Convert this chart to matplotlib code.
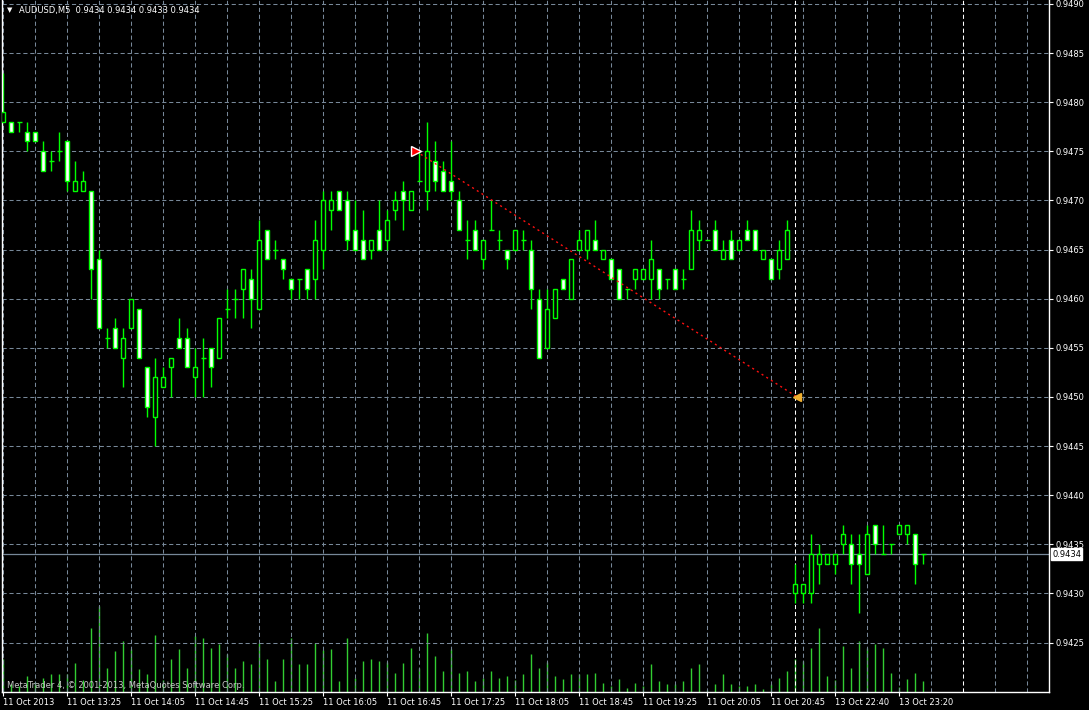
import numpy as np
import matplotlib
matplotlib.use("Agg")
import matplotlib.pyplot as plt
from matplotlib.patches import Rectangle

plt.rcParams['lines.scale_dashes'] = False
plt.rcParams['font.family'] = ['DejaVu Sans']

symbol = "AUDUSD,M5"

# M5 bars, Friday 11 Oct 12:45 .. 20:55, then Sunday 13 Oct 22:15 .. 23:35
opens = [0.9478, 0.9478, 0.9478, 0.9477, 0.9477, 0.9475, 0.9474, 0.9475, 0.9476, 0.9471,
         0.9471, 0.9471, 0.9464, 0.9456, 0.9457, 0.9454, 0.9457, 0.9459, 0.9453, 0.9448,
         0.9451, 0.9453, 0.9456, 0.9456, 0.9452, 0.9454, 0.9455, 0.9454, 0.9459, 0.9460,
         0.9461, 0.9462, 0.9459, 0.9467, 0.9465, 0.9464, 0.9462, 0.9462, 0.9463, 0.9462,
         0.9465, 0.9469, 0.9471, 0.9470, 0.9467, 0.9466, 0.9465, 0.9467, 0.9466, 0.9469,
         0.9471, 0.9469, 0.9472, 0.9471, 0.9474, 0.9473, 0.9472, 0.9470, 0.9466, 0.9467,
         0.9464, 0.9467, 0.9466, 0.9465, 0.9465, 0.9466, 0.9465, 0.9460, 0.9455, 0.9458,
         0.9462, 0.9460, 0.9465, 0.9465, 0.9466, 0.9464, 0.9464, 0.9463, 0.9461, 0.9462,
         0.9462, 0.9462, 0.9463, 0.9462, 0.9463, 0.9462, 0.9463, 0.9466, 0.9466, 0.9467,
         0.9464, 0.9466, 0.9465, 0.9467, 0.9467, 0.9464, 0.9464, 0.9463, 0.9464,
         0.9430, 0.9430, 0.9430, 0.9433, 0.9433, 0.9433, 0.9435, 0.9435, 0.9434, 0.9432,
         0.9437, 0.9434, 0.9435, 0.9436, 0.9436, 0.9436, 0.9434]
highs = [0.9483, 0.9478, 0.9478, 0.9478, 0.9477, 0.9476, 0.9475, 0.9477, 0.9476, 0.9474,
         0.9473, 0.9471, 0.9465, 0.9457, 0.9458, 0.9457, 0.9460, 0.9459, 0.9453, 0.9454,
         0.9453, 0.9454, 0.9458, 0.9457, 0.9455, 0.9456, 0.9455, 0.9458, 0.9461, 0.9461,
         0.9463, 0.9463, 0.9468, 0.9467, 0.9466, 0.9464, 0.9462, 0.9462, 0.9463, 0.9468,
         0.9471, 0.9471, 0.9471, 0.9471, 0.9470, 0.9469, 0.9466, 0.9470, 0.9469, 0.9471,
         0.9472, 0.9471, 0.9475, 0.9478, 0.9476, 0.9474, 0.9476, 0.9471, 0.9468, 0.9468,
         0.9466, 0.9470, 0.9467, 0.9465, 0.9467, 0.9467, 0.9466, 0.9461, 0.9461, 0.9461,
         0.9462, 0.9464, 0.9467, 0.9467, 0.9468, 0.9465, 0.9464, 0.9463, 0.9461, 0.9463,
         0.9463, 0.9466, 0.9463, 0.9462, 0.9463, 0.9463, 0.9469, 0.9468, 0.9466, 0.9468,
         0.9466, 0.9467, 0.9466, 0.9468, 0.9467, 0.9465, 0.9464, 0.9466, 0.9468,
         0.9433, 0.9431, 0.9436, 0.9435, 0.9434, 0.9434, 0.9437, 0.9436, 0.9436, 0.9437,
         0.9437, 0.9437, 0.9435, 0.9437, 0.9437, 0.9436, 0.9434]
lows = [0.9478, 0.9477, 0.9477, 0.9475, 0.9476, 0.9473, 0.9473, 0.9474, 0.9471, 0.9471,
        0.9471, 0.9460, 0.9457, 0.9455, 0.9455, 0.9451, 0.9457, 0.9454, 0.9448, 0.9445,
        0.9451, 0.9450, 0.9455, 0.9453, 0.9450, 0.9450, 0.9451, 0.9454, 0.9458, 0.9458,
        0.9458, 0.9457, 0.9459, 0.9464, 0.9464, 0.9462, 0.9460, 0.9460, 0.9460, 0.9460,
        0.9463, 0.9467, 0.9469, 0.9465, 0.9465, 0.9464, 0.9464, 0.9465, 0.9465, 0.9468,
        0.9467, 0.9469, 0.9472, 0.9469, 0.9471, 0.9471, 0.9470, 0.9467, 0.9464, 0.9465,
        0.9463, 0.9467, 0.9465, 0.9463, 0.9465, 0.9465, 0.9459, 0.9454, 0.9455, 0.9458,
        0.9461, 0.9460, 0.9465, 0.9464, 0.9465, 0.9464, 0.9462, 0.9460, 0.9460, 0.9461,
        0.9462, 0.9460, 0.9460, 0.9461, 0.9461, 0.9461, 0.9463, 0.9465, 0.9466, 0.9465,
        0.9464, 0.9464, 0.9465, 0.9466, 0.9465, 0.9464, 0.9462, 0.9462, 0.9464,
        0.9429, 0.9429, 0.9429, 0.9431, 0.9433, 0.9432, 0.9434, 0.9431, 0.9428, 0.9432,
        0.9434, 0.9434, 0.9434, 0.9436, 0.9435, 0.9431, 0.9433]
closes = [0.9479, 0.9477, 0.9478, 0.9476, 0.9476, 0.9473, 0.9474, 0.9475, 0.9472, 0.9472,
          0.9472, 0.9463, 0.9457, 0.9456, 0.9455, 0.9456, 0.9460, 0.9454, 0.9449, 0.9452,
          0.9452, 0.9454, 0.9455, 0.9453, 0.9453, 0.9454, 0.9453, 0.9458, 0.9459, 0.9460,
          0.9463, 0.9460, 0.9466, 0.9464, 0.9465, 0.9463, 0.9461, 0.9462, 0.9461, 0.9466,
          0.9470, 0.9470, 0.9469, 0.9466, 0.9465, 0.9464, 0.9466, 0.9465, 0.9468, 0.9470,
          0.9470, 0.9471, 0.9472, 0.9475, 0.9472, 0.9471, 0.9471, 0.9467, 0.9466, 0.9465,
          0.9466, 0.9467, 0.9466, 0.9464, 0.9467, 0.9466, 0.9461, 0.9454, 0.9459, 0.9461,
          0.9461, 0.9464, 0.9466, 0.9467, 0.9465, 0.9465, 0.9462, 0.9460, 0.9461, 0.9463,
          0.9463, 0.9464, 0.9461, 0.9462, 0.9461, 0.9462, 0.9467, 0.9467, 0.9466, 0.9465,
          0.9465, 0.9464, 0.9466, 0.9466, 0.9465, 0.9465, 0.9462, 0.9465, 0.9467,
          0.9431, 0.9431, 0.9434, 0.9434, 0.9434, 0.9434, 0.9436, 0.9433, 0.9433, 0.9436,
          0.9435, 0.9434, 0.9435, 0.9437, 0.9437, 0.9433, 0.9434]
volumes = [33, 8, 6, 16, 10, 14, 18, 18, 18, 29, 12, 64, 86, 24, 41, 51, 43, 23, 18, 57,
           12, 33, 43, 24, 56, 54, 44, 48, 38, 24, 31, 28, 49, 33, 11, 33, 54, 28, 28, 49,
           42, 43, 11, 54, 14, 31, 33, 31, 30, 19, 29, 44, 24, 59, 36, 21, 43, 19, 21, 11,
           14, 21, 14, 16, 12, 18, 38, 24, 30, 16, 13, 18, 18, 18, 19, 9, 6, 13, 4, 9,
           6, 28, 11, 8, 8, 11, 24, 28, 2, 8, 18, 8, 6, 6, 8, 3, 8, 14, 21,
           33, 31, 44, 64, 16, 12, 46, 24, 51, 44, 48, 44, 19, 5, 13, 19, 11]

time_labels = ["11 Oct 2013", "11 Oct 13:25", "11 Oct 14:05", "11 Oct 14:45", "11 Oct 15:25",
               "11 Oct 16:05", "11 Oct 16:45", "11 Oct 17:25", "11 Oct 18:05", "11 Oct 18:45",
               "11 Oct 19:25", "11 Oct 20:05", "11 Oct 20:45", "13 Oct 22:40", "13 Oct 23:20"]
label_step = 8
day_separators = [99, 120]
price_ticks = np.arange(0.9425, 0.94901, 0.0005)

# trend line anchors (bar, price)
trend_bars = [51.6, 99.2]
trend_prices = [0.9475, 0.9450]

GREEN = '#00ff00'
GRID = '#778899'

W, H = 1089, 710
fig = plt.figure(figsize=(W / 100, H / 100), dpi=100, facecolor='black')
rect = [2 / W, 18 / H, 1047 / W, 692 / H]
vax = fig.add_axes(rect, zorder=0)
ax = fig.add_axes(rect, zorder=1)
ax.set_facecolor('none')
vax.set_facecolor('black')

x0, x1 = -0.16, 130.7
y0, y1 = 0.941997, 0.94904
ax.set_xlim(x0, x1)
ax.set_ylim(y0, y1)
vax.set_xlim(x0, x1)
vax.set_ylim(0, 692)
vax.set_axis_off()

n = len(closes)
bars = np.arange(n)

# volumes
vax.vlines(bars, 0, volumes, color='#32cd32', lw=1)

# grid
for p in price_ticks:
    ax.axhline(p, color=GRID, lw=0.75, ls=(0, (3, 2)), zorder=0)
for b in range(0, 131, 4):
    if b in day_separators:
        continue
    ax.axvline(b, color=GRID, lw=0.75, ls=(0, (3, 2)), zorder=0)
for b in day_separators:
    ax.axvline(b, color='white', lw=0.75, ls=(0, (3, 2)), zorder=0)

# bid line
ax.axhline(closes[-1], color=GRID, lw=0.9, zorder=1)

# candles
for i in bars:
    o, h, l, c = opens[i], highs[i], lows[i], closes[i]
    ax.vlines(i, l, h, color=GREEN, lw=1, zorder=2)
    if abs(c - o) < 1e-7:
        ax.hlines(o, i - 0.3, i + 0.3, color=GREEN, lw=1, zorder=3)
    else:
        face = 'white' if c < o else 'black'
        ax.add_patch(Rectangle((i - 0.25, min(o, c)), 0.5, abs(c - o),
                               facecolor=face, edgecolor=GREEN, lw=1, zorder=3))

# trend line
ax.plot(trend_bars, trend_prices, color='#ff1010', lw=1, ls=(0, (1.5, 2.5)), zorder=4)
ax.plot(trend_bars[0], trend_prices[0], marker='>', ms=7, color='red',
        mec='white', mew=1, zorder=5)
ax.plot(trend_bars[1], trend_prices[1], marker='<', ms=6, color='#f0b030',
        mec='#f0b030', zorder=5)

# axes styling
for s in ['left', 'bottom', 'right']:
    ax.spines[s].set_color('white')
    ax.spines[s].set_linewidth(1)
ax.spines['top'].set_visible(False)

ax.yaxis.tick_right()
ax.set_yticks(price_ticks)
ax.set_yticklabels([f"{p:.4f}" for p in price_ticks])
ax.tick_params(axis='y', colors='white', labelsize=6, length=3, pad=2, labelcolor='white')

ax.set_xticks(np.arange(len(time_labels)) * label_step)
ax.set_xticklabels(time_labels)
ax.tick_params(axis='x', colors='white', labelsize=6, length=3, pad=1, labelcolor='white')
for lbl in ax.get_xticklabels():
    lbl.set_ha('left')

# current price box
ax.text(1.003, closes[-1], f"{closes[-1]:.4f}", transform=ax.get_yaxis_transform(),
        fontsize=6, color='black', va='center', ha='left',
        bbox=dict(boxstyle='square,pad=0.15', facecolor='white', edgecolor='white'))

# header and footer
fig.text(7 / W, 1 - 10 / H, "\u25bc", color='white', fontsize=5, va='center', ha='left')
fig.text(19 / W, 1 - 10 / H,
         f"{symbol}  {opens[-1]:.4f} {highs[-1]:.4f} {lows[-1]:.4f} {closes[-1]:.4f}",
         color='white', fontsize=6, va='center', ha='left')
fig.text(7 / W, 1 - 685 / H, "MetaTrader 4, \u00a9 2001-2013, MetaQuotes Software Corp.",
         color='#c8c8c8', fontsize=6, va='center', ha='left')

fig.savefig('out.png', dpi=100, facecolor='black')
